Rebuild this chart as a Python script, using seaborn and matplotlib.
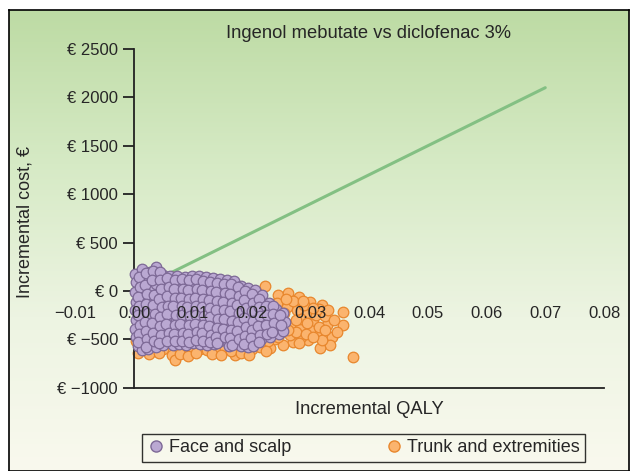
import matplotlib
matplotlib.use("Agg")
import matplotlib.pyplot as plt
import matplotlib.transforms as mtransforms
from matplotlib.colors import LinearSegmentedColormap
from matplotlib.lines import Line2D
import numpy as np
import pandas as pd
import seaborn as sns

# incremental (QALY, cost) pairs
face = [
    (0.0002, 180), (0.0004, 90), (0.0001, -10), (0.0003, -110), (0.0002, -200), (0.0004, -300), (0.0001, -390), (0.0003, -480), (0.0006, -570),
    (0.0014, 230), (0.0017, 140), (0.0012, 50), (0.0016, -60), (0.0013, -150), (0.0018, -250), (0.0015, -340), (0.0012, -430), (0.0017, -520), (0.0014, -610),
    (0.0028, 200), (0.0025, 110), (0.0029, 20), (0.0026, -90), (0.0030, -180), (0.0024, -280), (0.0028, -370), (0.0026, -460), (0.0029, -550), (0.0023, -600),
    (0.0037, 250), (0.0041, 160), (0.0038, 70), (0.0040, -30), (0.0036, -130), (0.0042, -220), (0.0039, -320), (0.0037, -410), (0.0041, -500), (0.0038, -580),
    (0.0049, 170), (0.0053, 90), (0.0050, 0), (0.0054, -90), (0.0048, -190), (0.0052, -290), (0.0050, -380), (0.0055, -470), (0.0049, -560),
    (0.0062, 150), (0.0065, 60), (0.0061, -30), (0.0066, -120), (0.0063, -210), (0.0060, -300), (0.0064, -400), (0.0062, -490), (0.0066, -560),
    (0.0074, 160), (0.0077, 70), (0.0073, -20), (0.0078, -110), (0.0075, -200), (0.0072, -290), (0.0076, -380), (0.0074, -470), (0.0077, -550),
    (0.0086, 140), (0.0089, 50), (0.0085, -40), (0.0090, -130), (0.0087, -220), (0.0084, -310), (0.0088, -400), (0.0086, -490), (0.0089, -560),
    (0.0098, 160), (0.0101, 70), (0.0097, -20), (0.0102, -110), (0.0099, -200), (0.0096, -280), (0.0100, -370), (0.0098, -460), (0.0101, -540),
    (0.0110, 150), (0.0113, 60), (0.0109, -30), (0.0114, -120), (0.0111, -210), (0.0108, -300), (0.0112, -390), (0.0110, -470), (0.0113, -550),
    (0.0122, 140), (0.0125, 50), (0.0121, -40), (0.0126, -130), (0.0123, -220), (0.0120, -310), (0.0124, -400), (0.0122, -480), (0.0125, -560),
    (0.0134, 130), (0.0137, 40), (0.0133, -50), (0.0138, -140), (0.0135, -230), (0.0132, -320), (0.0136, -410), (0.0134, -490), (0.0137, -550),
    (0.0146, 120), (0.0149, 30), (0.0145, -60), (0.0150, -160), (0.0147, -250), (0.0144, -350), (0.0148, -440), (0.0146, -520),
    (0.0158, 110), (0.0161, 30), (0.0157, -60), (0.0162, -150), (0.0159, -240), (0.0156, -340), (0.0160, -430), (0.0158, -510), (0.0161, -570),
    (0.0170, 100), (0.0173, 20), (0.0169, -80), (0.0174, -170), (0.0171, -270), (0.0168, -360), (0.0172, -450), (0.0170, -540),
    (0.0182, 50), (0.0185, -40), (0.0181, -130), (0.0186, -230), (0.0183, -320), (0.0180, -410), (0.0184, -500), (0.0182, -570),
    (0.0194, 30), (0.0197, -60), (0.0193, -150), (0.0198, -250), (0.0195, -340), (0.0192, -430), (0.0196, -520), (0.0194, -580),
    (0.0206, 10), (0.0209, -80), (0.0205, -170), (0.0210, -270), (0.0207, -360), (0.0204, -450), (0.0208, -530),
    (0.0218, -40), (0.0221, -130), (0.0217, -230), (0.0222, -320), (0.0219, -410), (0.0216, -500),
    (0.0230, -120), (0.0233, -210), (0.0229, -300), (0.0234, -390), (0.0231, -470),
    (0.0242, -190), (0.0245, -280), (0.0241, -360), (0.0246, -440),
    (0.0254, -230), (0.0257, -320), (0.0253, -410),
    # second, offset layer of the dense cloud
    (0.0008, 140), (0.0010, 40), (0.0007, -60), (0.0009, -160), (0.0006, -250), (0.0010, -350), (0.0008, -440), (0.0007, -530),
    (0.0021, 190), (0.0019, 60), (0.0022, -30), (0.0020, -130), (0.0023, -230), (0.0019, -320), (0.0021, -410), (0.0022, -500), (0.0020, -580),
    (0.0033, 210), (0.0031, 110), (0.0034, -40), (0.0032, -140), (0.0035, -240), (0.0031, -330), (0.0033, -430), (0.0034, -520),
    (0.0045, 200), (0.0044, 110), (0.0046, 20), (0.0043, -80), (0.0047, -170), (0.0045, -270), (0.0044, -360), (0.0046, -450), (0.0043, -540),
    (0.0057, 130), (0.0059, 40), (0.0056, -50), (0.0058, -150), (0.0057, -240), (0.0055, -340), (0.0059, -430), (0.0057, -520),
    (0.0069, 110), (0.0068, 20), (0.0070, -70), (0.0067, -160), (0.0071, -250), (0.0069, -350), (0.0068, -440), (0.0070, -520),
    (0.0081, 120), (0.0083, 20), (0.0080, -70), (0.0082, -160), (0.0081, -250), (0.0079, -340), (0.0083, -430), (0.0081, -520),
    (0.0093, 110), (0.0092, 10), (0.0094, -80), (0.0091, -170), (0.0095, -260), (0.0093, -350), (0.0092, -440), (0.0094, -530),
    (0.0105, 120), (0.0107, 20), (0.0104, -70), (0.0106, -160), (0.0105, -250), (0.0103, -340), (0.0107, -420), (0.0105, -510),
    (0.0117, 100), (0.0116, 10), (0.0118, -80), (0.0115, -170), (0.0119, -260), (0.0117, -350), (0.0116, -430), (0.0118, -520),
    (0.0129, 90), (0.0131, 0), (0.0128, -90), (0.0130, -180), (0.0129, -270), (0.0127, -360), (0.0131, -450), (0.0129, -530),
    (0.0141, 80), (0.0140, -10), (0.0142, -100), (0.0139, -200), (0.0143, -290), (0.0141, -380), (0.0140, -470), (0.0142, -540),
    (0.0153, 70), (0.0155, -20), (0.0152, -110), (0.0154, -200), (0.0153, -290), (0.0151, -390), (0.0155, -480),
    (0.0165, 70), (0.0164, -30), (0.0166, -120), (0.0163, -210), (0.0167, -310), (0.0165, -400), (0.0164, -490), (0.0166, -560),
    (0.0177, 40), (0.0179, -50), (0.0176, -140), (0.0178, -230), (0.0177, -320), (0.0175, -410), (0.0179, -500),
    (0.0189, 0), (0.0188, -90), (0.0190, -180), (0.0187, -280), (0.0191, -370), (0.0189, -460), (0.0188, -550),
    (0.0201, -30), (0.0203, -120), (0.0200, -210), (0.0202, -310), (0.0201, -400), (0.0199, -490), (0.0203, -570),
    (0.0213, -80), (0.0212, -170), (0.0214, -260), (0.0211, -360), (0.0215, -450), (0.0213, -530),
    (0.0225, -160), (0.0227, -250), (0.0224, -350), (0.0226, -440),
    (0.0237, -160), (0.0236, -240), (0.0238, -330), (0.0235, -420),
    (0.0249, -250), (0.0250, -350),
]
trunk = [
    (0.0223, 50), (0.0245, -40), (0.0262, -20), (0.0280, -60), (0.0300, -110), (0.0320, -145), (0.0356, -215),
    (0.0329, -350), (0.0356, -350), (0.0337, -470), (0.0334, -560), (0.0317, -590), (0.0373, -680), (0.0296, -510),
    (0.0271, -525), (0.0254, -560), (0.0232, -590), (0.0283, -380), (0.0266, -350), (0.0305, -330), (0.0295, -230),
    (0.0310, -250), (0.0277, -200), (0.0260, -165), (0.0243, -125), (0.0235, -280), (0.0249, -300), (0.0266, -455),
    (0.0310, -435), (0.0290, -140), (0.0270, -100), (0.0315, -190), (0.0325, -260), (0.0285, -290), (0.0300, -400),
    (0.0320, -510), (0.0285, -470), (0.0250, -420), (0.0240, -500), (0.0340, -300), (0.0315, -370), (0.0255, -230),
    (0.0230, -200), (0.0225, -400), (0.0275, -420),
    (0.0258, -80), (0.0288, -100), (0.0305, -180), (0.0330, -200), (0.0275, -300), (0.0295, -330), (0.0262, -400),
    (0.0293, -440), (0.0325, -400), (0.0305, -480), (0.0280, -540), (0.0245, -470), (0.0345, -420), (0.0235, -360),
    (0.0228, -520),
    (0.0007, -640), (0.0019, -560), (0.0035, -620), (0.0050, -600), (0.0065, -660), (0.0070, -710), (0.0085, -630),
    (0.0099, -630), (0.0112, -600), (0.0124, -610), (0.0140, -620), (0.0155, -600), (0.0172, -660), (0.0165, -620),
    (0.0188, -610), (0.0200, -600), (0.0215, -580), (0.0003, -520),
    (0.0025, -650), (0.0042, -640), (0.0078, -650), (0.0092, -670), (0.0106, -640), (0.0132, -650), (0.0148, -660),
    (0.0182, -640), (0.0195, -660), (0.0225, -620),
    (0.0065, 145), (0.0143, 110), (0.0175, 40), (0.0210, -20),
]
wtp_qaly = [0.0, 0.07]
wtp_cost = [0, 2100]
x_ticks = [-0.01, 0.0, 0.01, 0.02, 0.03, 0.04, 0.05, 0.06, 0.07, 0.08]
y_ticks = [2500, 2000, 1500, 1000, 500, 0, -500, -1000]

face_df = pd.DataFrame(face, columns=["qaly", "cost"])
trunk_df = pd.DataFrame(trunk, columns=["qaly", "cost"])

sns.set_style("ticks")
plt.rcParams["font.family"] = ["Liberation Sans", "DejaVu Sans"]

fig = plt.figure(figsize=(6.3, 4.71), dpi=100)

# green-to-cream background panel
bg = fig.add_axes([9 / 630, 0, 620 / 630, 461 / 471])
grad = LinearSegmentedColormap.from_list("bg", ["#bddba4", "#d6eac5", "#edf4e2", "#f9f9ee"])
bg.imshow(np.linspace(0, 1, 256).reshape(-1, 1), cmap=grad, aspect="auto", extent=[0, 1, 0, 1])
bg.set_xticks([])
bg.set_yticks([])
for s in bg.spines.values():
    s.set_color("black")
    s.set_linewidth(1.2)

ax = fig.add_axes([0.1008, 0.1766, 0.8766, 0.740])
ax.patch.set_alpha(0)

sns.lineplot(x=wtp_qaly, y=wtp_cost, color="#83c083", lw=2.2, ax=ax, zorder=1)
sns.scatterplot(data=trunk_df, x="qaly", y="cost", color="#fbb46e", edgecolor="#e8872d",
                s=58, linewidth=0.9, ax=ax, zorder=2)
sns.scatterplot(data=face_df, x="qaly", y="cost", color="#baa8d2", edgecolor="#7d6996",
                s=58, linewidth=0.9, ax=ax, zorder=3)

ax.set_xlim(-0.012, 0.082)
ax.set_ylim(-1000, 2600)
ax.set_xlabel("")
ax.set_ylabel("")
ax.spines["top"].set_visible(False)
ax.spines["right"].set_visible(False)
ax.spines["left"].set_position(("data", 0))
ax.spines["left"].set_bounds(-1000, 2500)
ax.spines["bottom"].set_bounds(0, 0.08)
for side in ["left", "bottom"]:
    ax.spines[side].set_linewidth(1.3)
    ax.spines[side].set_color("#222222")

ax.set_yticks(y_ticks)
ax.set_yticklabels([f"€ {v}".replace("-", "\u2212") for v in y_ticks])
ax.tick_params(axis="y", direction="out", length=8, width=1.3, color="#222222", labelsize=12, pad=3.5)
ax.set_xticks([])

# x tick labels sit just under the zero line
lab_tr = mtransforms.offset_copy(ax.transData, fig=fig, x=0, y=-22, units="dots")
for t in x_ticks:
    ax.text(t, 0, f"{t:.2f}".replace("-", "\u2212"), transform=lab_tr, ha="center", va="center",
            fontsize=12, zorder=5)

fig.text(369 / 630, 1 - 33 / 471, "Ingenol mebutate vs diclofenac 3%", ha="center", va="center", fontsize=13.2)
fig.text(369 / 630, 1 - 409 / 471, "Incremental QALY", ha="center", va="center", fontsize=13.2)
fig.text(25 / 630, 1 - 222 / 471, "Incremental cost, €", ha="center", va="center", rotation=90, fontsize=13)

handles = [
    Line2D([], [], ls="none", marker="o", markersize=8, markerfacecolor="#baa8d2", markeredgecolor="#7d6996"),
    Line2D([], [], ls="none", marker="o", markersize=8, markerfacecolor="#fbb46e", markeredgecolor="#e8872d"),
]
leg = fig.legend(handles, ["Face and scalp", "Trunk and extremities"], ncol=2, loc="center",
                 bbox_to_anchor=(363.5 / 630, 1 - 448 / 471), frameon=True, fancybox=False,
                 edgecolor="black", facecolor="none", fontsize=13, columnspacing=5.2,
                 handletextpad=0.2, handlelength=1.0, borderpad=0.3)
leg.get_frame().set_linewidth(1.0)

fig.savefig("out.png", dpi=100)
